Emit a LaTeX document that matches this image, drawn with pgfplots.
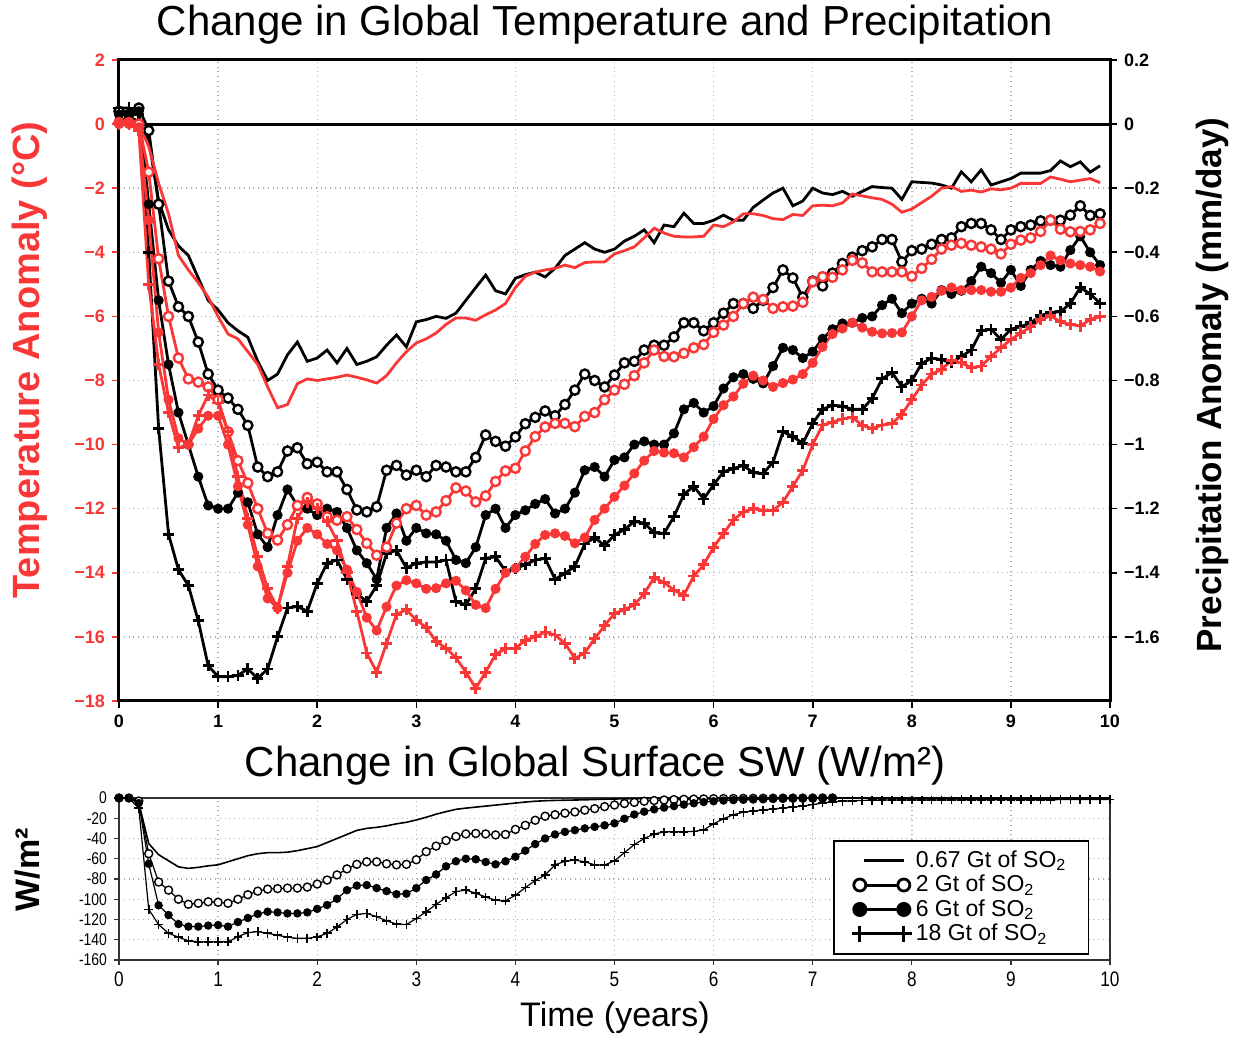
\documentclass[border=0pt]{standalone}
\usepackage{fontspec}
\setmainfont{Liberation Sans}
\newfontfamily\narrowfont[FakeStretch=0.82]{Liberation Sans}
\usepackage{pgfplots}
\pgfplotsset{compat=1.18}
\usepackage{pgfplotstable}
\definecolor{myred}{RGB}{250,55,55}
\definecolor{gridgray}{RGB}{175,175,175}

\pgfplotstableread{
t pA tB pC tD pE tF pG tH
0.0 0.01 0.05 0.04 0.05 0.03 0.0 0.05 0.0
0.1 0.02 0.05 0.03 0.05 0.03 0.0 0.05 0.0
0.2 0.01 0.0 0.05 0.0 0.04 -0.1 0.03 -0.2
0.3 -0.05 -0.7 -0.02 -1.5 -0.25 -3.0 -0.4 -5.0
0.4 -0.24 -1.85 -0.25 -4.2 -0.55 -6.5 -0.95 -7.5
0.5 -0.33 -2.8 -0.49 -6.0 -0.75 -8.6 -1.28 -9.0
0.6 -0.38 -4.1 -0.57 -7.3 -0.9 -9.8 -1.39 -10.1
0.7 -0.41 -4.55 -0.60 -7.95 -1.0 -10.0 -1.44 -10.0
0.8 -0.48 -4.95 -0.68 -8.05 -1.10 -9.5 -1.55 -9.1
0.9 -0.55 -5.4 -0.78 -8.2 -1.19 -9.1 -1.69 -8.45
1.0 -0.58 -6.0 -0.83 -8.6 -1.2 -9.1 -1.724 -8.7
1.1 -0.62 -6.55 -0.855 -9.6 -1.2 -10.0 -1.724 -9.6
1.2 -0.645 -6.7 -0.89 -10.5 -1.15 -11.3 -1.72 -11.0
1.3 -0.665 -7.1 -0.94 -11.2 -1.18 -12.5 -1.70 -12.3
1.4 -0.74 -7.5 -1.07 -12.0 -1.28 -13.8 -1.73 -13.5
1.5 -0.80 -8.2 -1.10 -12.77 -1.32 -14.8 -1.70 -14.5
1.6 -0.78 -8.85 -1.085 -12.98 -1.22 -15.1 -1.60 -15.1
1.7 -0.72 -8.75 -1.02 -12.5 -1.14 -14.0 -1.51 -13.8
1.8 -0.68 -8.1 -1.01 -11.9 -1.19 -13.0 -1.505 -12.3
1.9 -0.74 -7.95 -1.06 -11.65 -1.2 -12.6 -1.52 -11.8
2.0 -0.73 -8.0 -1.055 -11.85 -1.22 -12.8 -1.433 -12.0
2.1 -0.705 -7.95 -1.085 -12.25 -1.2 -13.1 -1.37 -12.4
2.2 -0.745 -7.9 -1.085 -12.36 -1.21 -13.3 -1.36 -13.0
2.3 -0.70 -7.83 -1.14 -12.25 -1.26 -13.9 -1.42 -14.0
2.4 -0.75 -7.9 -1.204 -12.65 -1.33 -14.6 -1.465 -15.2
2.5 -0.74 -7.98 -1.21 -13.08 -1.37 -15.4 -1.49 -16.5
2.6 -0.726 -8.08 -1.194 -13.45 -1.42 -15.8 -1.44 -17.1
2.7 -0.69 -7.85 -1.08 -13.2 -1.26 -15.06 -1.34 -16.2
2.8 -0.658 -7.45 -1.065 -12.45 -1.215 -14.4 -1.33 -15.3
2.9 -0.695 -7.1 -1.095 -12.0 -1.30 -14.23 -1.385 -15.15
3.0 -0.617 -6.83 -1.08 -11.9 -1.26 -14.33 -1.37 -15.48
3.1 -0.61 -6.7 -1.10 -12.2 -1.277 -14.5 -1.366 -15.7
3.2 -0.60 -6.52 -1.065 -12.1 -1.28 -14.48 -1.366 -16.15
3.3 -0.606 -6.25 -1.07 -11.75 -1.30 -14.33 -1.36 -16.35
3.4 -0.59 -6.05 -1.085 -11.35 -1.36 -14.25 -1.49 -16.65
3.5 -0.55 -6.05 -1.085 -11.45 -1.37 -14.55 -1.50 -17.1
3.6 -0.51 -6.12 -1.04 -11.79 -1.32 -15.0 -1.45 -17.6
3.7 -0.471 -5.95 -0.97 -11.6 -1.22 -15.1 -1.355 -17.1
3.8 -0.52 -5.8 -0.99 -11.15 -1.2 -14.5 -1.35 -16.55
3.9 -0.53 -5.6 -1.005 -10.82 -1.26 -14.0 -1.395 -16.36
4.0 -0.481 -5.1 -0.976 -10.74 -1.22 -13.86 -1.386 -16.36
4.1 -0.47 -4.75 -0.935 -10.2 -1.205 -13.5 -1.375 -16.1
4.2 -0.462 -4.62 -0.915 -9.75 -1.185 -13.1 -1.36 -16.0
4.3 -0.477 -4.55 -0.895 -9.45 -1.17 -12.82 -1.355 -15.85
4.4 -0.45 -4.5 -0.91 -9.34 -1.215 -12.77 -1.42 -15.94
4.5 -0.41 -4.4 -0.875 -9.34 -1.2 -12.85 -1.402 -16.2
4.6 -0.39 -4.48 -0.83 -9.44 -1.15 -13.08 -1.38 -16.67
4.7 -0.37 -4.32 -0.78 -9.12 -1.08 -12.9 -1.31 -16.5
4.8 -0.39 -4.3 -0.80 -9.0 -1.07 -12.35 -1.29 -16.05
4.9 -0.40 -4.3 -0.82 -8.6 -1.1 -12.0 -1.315 -15.65
5.0 -0.39 -4.05 -0.783 -8.3 -1.048 -11.63 -1.282 -15.27
5.1 -0.365 -3.95 -0.745 -8.12 -1.04 -11.28 -1.265 -15.15
5.2 -0.35 -3.83 -0.74 -7.85 -1.0 -10.9 -1.24 -15.0
5.3 -0.33 -3.55 -0.705 -7.45 -0.99 -10.5 -1.245 -14.65
5.4 -0.37 -3.25 -0.69 -7.05 -1.0 -10.2 -1.275 -14.15
5.5 -0.315 -3.4 -0.69 -7.25 -1.0 -10.25 -1.277 -14.3
5.6 -0.32 -3.5 -0.664 -7.26 -0.965 -10.27 -1.225 -14.54
5.7 -0.278 -3.52 -0.62 -7.15 -0.89 -10.4 -1.155 -14.7
5.8 -0.31 -3.52 -0.62 -6.98 -0.87 -10.08 -1.13 -14.1
5.9 -0.31 -3.5 -0.645 -6.88 -0.9 -9.75 -1.17 -13.75
6.0 -0.30 -3.15 -0.62 -6.5 -0.88 -9.2 -1.125 -13.2
6.1 -0.284 -3.2 -0.59 -6.27 -0.825 -8.77 -1.085 -12.77
6.2 -0.30 -3.05 -0.56 -6.0 -0.79 -8.5 -1.075 -12.35
6.3 -0.30 -2.8 -0.56 -5.6 -0.78 -8.1 -1.065 -12.1
6.4 -0.26 -2.8 -0.575 -5.4 -0.795 -7.85 -1.088 -12.0
6.5 -0.237 -2.85 -0.55 -5.47 -0.809 -8.0 -1.09 -12.05
6.6 -0.215 -2.95 -0.51 -5.75 -0.755 -8.2 -1.055 -12.05
6.7 -0.20 -2.98 -0.455 -5.7 -0.698 -8.08 -0.96 -11.8
6.8 -0.255 -2.82 -0.48 -5.68 -0.705 -7.97 -0.975 -11.3
6.9 -0.24 -2.85 -0.54 -5.56 -0.73 -7.8 -0.996 -10.8
7.0 -0.20 -2.55 -0.49 -4.92 -0.71 -7.45 -0.934 -10.0
7.1 -0.215 -2.53 -0.505 -4.76 -0.67 -6.95 -0.89 -9.39
7.2 -0.22 -2.55 -0.465 -4.78 -0.64 -6.55 -0.877 -9.3
7.3 -0.21 -2.46 -0.435 -4.55 -0.622 -6.38 -0.88 -9.2
7.4 -0.225 -2.18 -0.415 -4.25 -0.62 -6.2 -0.89 -9.15
7.5 -0.21 -2.24 -0.395 -4.33 -0.605 -6.35 -0.89 -9.4
7.6 -0.195 -2.3 -0.383 -4.61 -0.60 -6.48 -0.856 -9.5
7.7 -0.198 -2.35 -0.36 -4.61 -0.565 -6.53 -0.795 -9.39
7.8 -0.20 -2.5 -0.36 -4.61 -0.545 -6.52 -0.775 -9.35
7.9 -0.235 -2.75 -0.43 -4.61 -0.59 -6.5 -0.82 -9.05
8.0 -0.18 -2.65 -0.395 -4.75 -0.56 -6.0 -0.80 -8.6
8.1 -0.182 -2.45 -0.39 -4.5 -0.545 -5.5 -0.747 -8.14
8.2 -0.184 -2.25 -0.375 -4.22 -0.56 -5.39 -0.73 -7.8
8.3 -0.19 -2.0 -0.36 -3.9 -0.518 -5.2 -0.735 -7.65
8.4 -0.20 -1.95 -0.355 -3.78 -0.53 -5.1 -0.745 -7.38
8.5 -0.149 -2.1 -0.32 -3.72 -0.52 -5.18 -0.725 -7.45
8.6 -0.18 -2.06 -0.31 -3.78 -0.49 -5.18 -0.705 -7.6
8.7 -0.143 -2.12 -0.31 -3.83 -0.445 -5.18 -0.645 -7.55
8.8 -0.19 -2.02 -0.33 -3.9 -0.465 -5.23 -0.64 -7.25
8.9 -0.18 -2.05 -0.36 -4.05 -0.495 -5.23 -0.672 -6.98
9.0 -0.17 -2.0 -0.33 -3.75 -0.455 -5.1 -0.64 -6.72
9.1 -0.153 -1.85 -0.32 -3.62 -0.505 -4.8 -0.632 -6.52
9.2 -0.153 -1.85 -0.315 -3.55 -0.455 -4.65 -0.62 -6.33
9.3 -0.153 -1.85 -0.302 -3.35 -0.427 -4.4 -0.598 -6.1
9.4 -0.145 -1.65 -0.30 -3.0 -0.44 -4.1 -0.588 -5.98
9.5 -0.115 -1.72 -0.30 -3.28 -0.445 -4.25 -0.585 -6.17
9.6 -0.133 -1.8 -0.284 -3.36 -0.393 -4.35 -0.56 -6.25
9.7 -0.118 -1.75 -0.255 -3.35 -0.35 -4.4 -0.51 -6.3
9.8 -0.15 -1.7 -0.285 -3.3 -0.40 -4.45 -0.53 -6.1
9.9 -0.13 -1.83 -0.28 -3.1 -0.44 -4.6 -0.559 -6.01
}\topdata

\pgfplotstableread{
t s1 s2 s6 s18
0.0 0 0 0 0
0.1 0 0 0 0
0.2 -5 -3 -5 -10
0.3 -45 -55 -65 -110
0.4 -56 -83 -106 -125
0.5 -62 -91 -115.6 -133.6
0.6 -68 -100 -124.5 -137.5
0.7 -69.5 -105 -127 -141
0.8 -68.5 -104 -127 -142
0.9 -67 -102.5 -126 -142
1.0 -66 -103 -125.5 -142
1.1 -63 -104 -127 -142
1.2 -60 -100 -122.5 -137
1.3 -57 -95.5 -118.5 -133
1.4 -55 -92 -114.5 -132
1.5 -54 -90 -112.3 -133.6
1.6 -54 -89.5 -113 -135.5
1.7 -53.5 -89 -114 -137.5
1.8 -52 -89 -114 -138.6
1.9 -50 -88 -113 -138.6
2.0 -48 -85 -109.5 -137.2
2.1 -44 -81 -105.7 -133.6
2.2 -40 -76 -99.5 -127.5
2.3 -36 -70 -91 -120
2.4 -32 -65.5 -86.5 -115
2.5 -30 -63 -86 -114
2.6 -29 -63 -89 -117.2
2.7 -27.5 -65 -92 -121.3
2.8 -25.5 -66 -95 -124.5
2.9 -24 -65.5 -94.5 -125
3.0 -21.7 -61 -89 -119
3.1 -19 -53 -81 -112.3
3.2 -16 -47.5 -75.5 -105
3.3 -13.5 -42 -67.5 -98.5
3.4 -11.2 -38 -62.5 -92.5
3.5 -10 -35.5 -60 -90.9
3.6 -9 -35 -60.5 -94
3.7 -8 -35.5 -63.2 -97.8
3.8 -7 -36.5 -65.5 -101
3.9 -6 -36 -62.5 -101.5
4.0 -5 -31 -58 -96
4.1 -4 -27 -52 -88.5
4.2 -3.2 -22 -45.5 -81.5
4.3 -2.7 -18 -40 -76
4.4 -2.4 -16.5 -36 -66
4.5 -2.2 -15 -33.5 -62.5
4.6 -2 -13.8 -31.8 -61.3
4.7 -1.8 -12 -30 -63
4.8 -1.5 -10.5 -28.5 -66
4.9 -1.2 -8.5 -27 -66.2
5.0 -1 -6.9 -25 -62
5.1 -0.8 -5.5 -20.5 -54
5.2 -0.6 -4.3 -16.3 -46
5.3 -0.5 -3.2 -13.5 -40
5.4 -0.4 -2.5 -11.2 -35.5
5.5 -0.3 -2.0 -9.5 -33.5
5.6 -0.2 -1.6 -8 -33.3
5.7 -0.2 -1.3 -6.5 -33.3
5.8 -0.1 -1.1 -5.2 -33
5.9 -0.1 -0.9 -4 -31.5
6.0 0 -0.7 -3.2 -25.5
6.1 0 -0.6 -2.5 -20.5
6.2 0 -0.5 -2.1 -16.5
6.3 0 -0.4 -1.8 -14
6.4 0 -0.3 -1.5 -12.8
6.5 0 -0.25 -1.3 -11.8
6.6 0 -0.2 -1 -10.8
6.7 0 -0.15 -0.8 -10
6.8 0 -0.1 -0.6 -9
6.9 0 -0.1 -0.4 -8
7.0 0 -0.05 -0.3 -6.5
7.1 0 0 -0.1 -5
7.2 0 0 0 -3.9
7.3 0 0 0 -3.2
7.4 0 0 0 -2.7
7.5 0 0 0 -2.4
7.6 0 0 0 -2.2
7.7 0 0 0 -2.1
7.8 0 0 0 -2.0
7.9 0 0 0 -2.0
8.0 0 0 0 -2.0
8.1 0 0 0 -1.9
8.2 0 0 0 -1.9
8.3 0 0 0 -1.9
8.4 0 0 0 -1.9
8.5 0 0 0 -1.8
8.6 0 0 0 -1.8
8.7 0 0 0 -1.8
8.8 0 0 0 -1.8
8.9 0 0 0 -1.8
9.0 0 0 0 -1.8
9.1 0 0 0 -1.7
9.2 0 0 0 -1.7
9.3 0 0 0 -1.7
9.4 0 0 0 -1.7
9.5 0 0 0 -1.6
9.6 0 0 0 -1.6
9.7 0 0 0 -1.6
9.8 0 0 0 -1.5
9.9 0 0 0 -1.5
10.0 0 0 0 -1.5
}\botdata

\begin{document}
\begin{tikzpicture}
\path[use as bounding box] (0pt,0pt) rectangle (619.5pt,520pt);

% ---------- top panel: temperature (left) ----------
\begin{axis}[
  at={(59.5pt,169.5pt)}, anchor=south west,
  scale only axis, width=495.5pt, height=320.5pt,
  xmin=0, xmax=10, ymin=-18, ymax=2,
  xtick={0,1,2,3,4,5,6,7,8,9,10},
  xticklabels={0,1,2,3,4,5,6,7,8,9,10},
  ytick={-18,-16,-14,-12,-10,-8,-6,-4,-2,0,2},
  yticklabels={−18,−16,−14,−12,−10,−8,−6,−4,−2,0,2},
  ytick pos=left, xtick pos=bottom,
  tick align=outside, major tick length=3.5pt,
  y tick style={myred, line width=0.8pt},
  x tick style={black, line width=0.8pt},
  axis line style={line width=1.5pt},
  grid=major, grid style={dotted, gridgray, line width=0.7pt},
  yticklabel style={font=\bfseries\fontsize{9}{10}\selectfont, text=myred},
  xticklabel style={font=\bfseries\fontsize{9}{10}\selectfont},
  clip=true,
]
\addplot[black, line width=1.5pt] coordinates {(0,0) (10,0)};
% precipitation (black), converted to the temperature scale (1 mm/day = 10 degC)
\addplot[black, line width=1.4pt] table[x=t, y expr=10*\thisrow{pA}] {\topdata};
\addplot[black, line width=1.4pt, mark=*, mark size=2.3pt,
  mark options={fill=white, draw=black, line width=1.2pt}]
  table[x=t, y expr=10*\thisrow{pC}] {\topdata};
\addplot[black, line width=1.4pt, mark=*, mark size=1.8pt,
  mark options={fill=black}]
  table[x=t, y expr=10*\thisrow{pE}] {\topdata};
\addplot[black, line width=1.4pt, mark=+, mark size=2.8pt,
  mark options={line width=1.4pt}]
  table[x=t, y expr=10*\thisrow{pG}] {\topdata};
% temperature (red)
\addplot[myred, line width=1.4pt] table[x=t, y=tB] {\topdata};
\addplot[myred, line width=1.4pt, mark=*, mark size=2.3pt,
  mark options={fill=white, draw=myred, line width=1.2pt}]
  table[x=t, y=tD] {\topdata};
\addplot[myred, line width=1.4pt, mark=*, mark size=1.8pt,
  mark options={fill=myred}]
  table[x=t, y=tF] {\topdata};
\addplot[myred, line width=1.4pt, mark=+, mark size=2.8pt,
  mark options={line width=1.4pt}]
  table[x=t, y=tH] {\topdata};
\end{axis}

% ---------- top panel: precipitation axis (right) ----------
\begin{axis}[
  at={(59.5pt,169.5pt)}, anchor=south west,
  scale only axis, width=495.5pt, height=320.5pt,
  xmin=0, xmax=10, ymin=-1.8, ymax=0.2,
  axis x line=none, axis y line*=right,
  ytick={-1.6,-1.4,-1.2,-1,-0.8,-0.6,-0.4,-0.2,0,0.2},
  yticklabels={−1.6,−1.4,−1.2,−1,−0.8,−0.6,−0.4,−0.2,0,0.2},
  tick align=outside, major tick length=3.5pt,
  y tick style={black, line width=0.8pt},
  axis line style={line width=1.5pt},
  yticklabel style={font=\bfseries\fontsize{9}{10}\selectfont},
]
\end{axis}

% ---------- bottom panel: surface SW ----------
\begin{axis}[
  at={(59.5pt,40pt)}, anchor=south west,
  scale only axis, width=495.5pt, height=81pt,
  xmin=0, xmax=10, ymin=-160, ymax=0,
  xtick={0,1,2,3,4,5,6,7,8,9,10},
  xticklabels={0,1,2,3,4,5,6,7,8,9,10},
  ytick={-160,-140,-120,-100,-80,-60,-40,-20,0},
  yticklabels={-160,-140,-120,-100,-80,-60,-40,-20,0},
  tick align=outside, major tick length=2.5pt,
  xtick pos=bottom, ytick pos=left,
  axis line style={line width=0.7pt, black!80},
  tick style={black!80, line width=0.6pt},
  grid=major, grid style={dotted, gridgray, line width=0.7pt},
  yticklabel style={font=\narrowfont\fontsize{8.5}{9}\selectfont},
  xticklabel style={font=\narrowfont\fontsize{10.5}{11}\selectfont},
  legend cell align=left,
  legend style={at={(0.7205,0.741)}, anchor=north west,
    draw=black, line width=0.8pt, fill=white,
    font=\fontsize{11.5}{12.7}\selectfont,
    inner xsep=9pt, inner ysep=3pt, row sep=-1.6pt},
]
\addplot[black, line width=0.8pt,
  legend image code/.code={\draw[black, line width=1.6pt] (2pt,0pt) -- (22pt,0pt);}]
  table[x=t, y=s1] {\botdata};
\addlegendentry{0.67 Gt of SO\textsubscript{2}}
\addplot[black, line width=0.6pt, mark=*, mark size=2pt,
  mark options={fill=white, draw=black, line width=0.7pt},
  restrict x to domain=0:7.2,
  legend image code/.code={\draw[black, line width=1.5pt, mark=*, mark size=3pt,
    mark options={fill=white, draw=black, line width=1.4pt}]
    plot coordinates {(0pt,0pt) (22pt,0pt)};}]
  table[x=t, y=s2] {\botdata};
\addlegendentry{2 Gt of SO\textsubscript{2}}
\addplot[black, line width=0.6pt, mark=*, mark size=1.8pt,
  mark options={fill=black},
  restrict x to domain=0:7.2,
  legend image code/.code={\draw[black, line width=1.5pt, mark=*, mark size=3pt,
    mark options={fill=black}]
    plot coordinates {(0pt,0pt) (22pt,0pt)};}]
  table[x=t, y=s6] {\botdata};
\addlegendentry{6 Gt of SO\textsubscript{2}}
\addplot[black, line width=0.6pt, mark=+, mark size=2.2pt,
  mark options={line width=0.8pt},
  legend image code/.code={\draw[black, line width=1.5pt, mark=+, mark size=4pt,
    mark options={line width=1.5pt}]
    plot coordinates {(0pt,0pt) (22pt,0pt)};}]
  table[x=t, y=s18] {\botdata};
\addlegendentry{18 Gt of SO\textsubscript{2}}
\end{axis}

% ---------- titles and labels ----------
\node[font=\fontsize{21}{25}\selectfont] at (302.5pt,507.5pt) {Change in Global Temperature and Precipitation};
\node[font=\fontsize{21}{25}\selectfont] at (297.5pt,137pt) {Change in Global Surface SW (W/m²)};
\node[font=\fontsize{17}{20}\selectfont] at (307.5pt,11pt) {Time (years)};
\node[rotate=90, font=\bfseries\fontsize{19}{22}\selectfont, text=myred] at (15pt,340pt) {Temperature Anomaly (°C)};
\node[rotate=90, font=\bfseries\fontsize{17.5}{20}\selectfont] at (606pt,327.5pt) {Precipitation Anomaly (mm/day)};
\node[rotate=90, font=\bfseries\fontsize{17}{20}\selectfont] at (14pt,85pt) {W/m²};
\end{tikzpicture}
\end{document}
